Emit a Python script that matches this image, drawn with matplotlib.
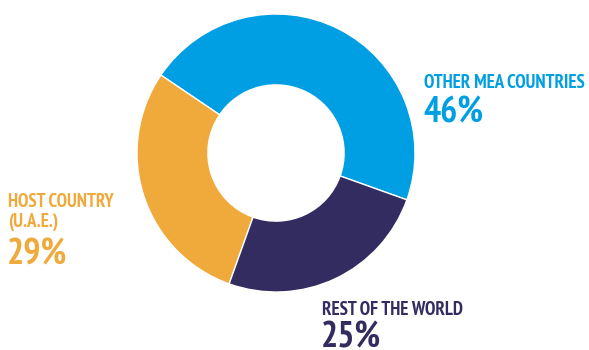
import matplotlib
matplotlib.use("Agg")
import matplotlib.pyplot as plt

# Share of visitors by origin
names = [["OTHER MEA COUNTRIES"], ["HOST COUNTRY", "(U.A.E.)"], ["REST OF THE WORLD"]]
shares = [46, 29, 25]
colors = ["#009FE3", "#F0A93B", "#332C61"]

W, H = 589, 350
plt.rcParams["font.family"] = ["PT Sans Narrow", "Open Sans", "DejaVu Sans"]

fig = plt.figure(figsize=(W / 100, H / 100), dpi=100)
ax = fig.add_axes([0, 0, 1, 1])

# pie drawn in pixel units, y measured from the bottom
cx, cy, R = 276, H - 153, 139
ax.pie(shares, colors=colors, startangle=-19.7, counterclock=True,
       center=(cx, cy), radius=R,
       wedgeprops=dict(width=R * 0.51, edgecolor="white", linewidth=1.0))
ax.set_xlim(0, W)
ax.set_ylim(0, H)
ax.set_aspect("equal")
ax.axis("off")


def label(x, y_first, y_pct, lines, pct, color):
    for i, line in enumerate(lines):
        ax.text(x, H - (y_first + 20 * i), line, color=color, fontsize=13.6,
                fontweight="bold", ha="left", va="baseline")
    ax.text(x - 1, H - y_pct, f"{pct}%", color=color, fontsize=25.8,
            fontweight="bold", ha="left", va="baseline")


label(424, 88, 122, names[0], shares[0], colors[0])
label(8, 207, 264, names[1], shares[1], colors[1])
label(322, 315, 347, names[2], shares[2], colors[2])

fig.savefig("out.png", dpi=100)
